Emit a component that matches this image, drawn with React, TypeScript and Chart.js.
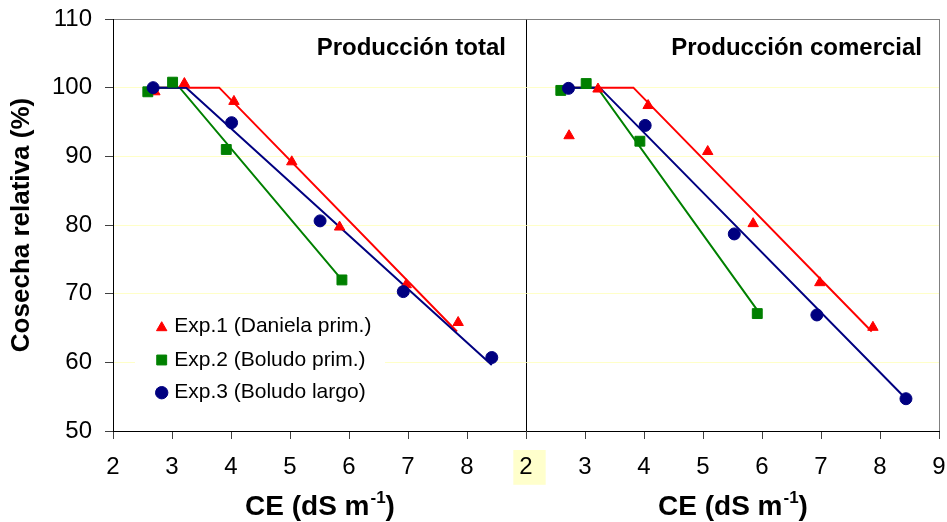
import React, { useEffect, useRef } from 'react';
import { Chart, registerables } from 'chart.js';

Chart.register(...registerables);

const FONT = "'Liberation Sans', Arial, Helvetica, sans-serif";

// ---- Data: Producción total (left panel) ----
const exp1TotalX = [2.71, 3.21, 4.05, 5.03, 5.84, 6.97, 7.85];
const exp1TotalY = [99.4, 100.6, 98.0, 89.2, 79.7, 71.3, 65.8];
const exp2TotalX = [2.59, 3.01, 3.92, 5.88];
const exp2TotalY = [99.4, 100.8, 91.0, 72.0];
const exp3TotalX = [2.68, 4.01, 5.51, 6.92, 8.42];
const exp3TotalY = [100.0, 94.9, 80.6, 70.3, 60.7];

// fitted threshold-slope lines (total)
const fit1TotalX = [2.71, 3.8, 7.83];
const fit1TotalY = [100, 100, 64.5];
const fit2TotalX = [2.59, 3.13, 5.88];
const fit2TotalY = [100, 100, 72.0];
const fit3TotalX = [2.68, 3.24, 8.42];
const fit3TotalY = [100, 100, 59.6];

// ---- Data: Producción comercial (right panel) ----
const exp1ComX = [2.73, 3.22, 4.07, 5.08, 5.85, 6.98, 7.88];
const exp1ComY = [93.0, 99.8, 97.4, 90.7, 80.2, 71.6, 65.1];
const exp2ComX = [2.59, 3.02, 3.93, 5.92];
const exp2ComY = [99.6, 100.6, 92.2, 67.1];
const exp3ComX = [2.72, 4.02, 5.53, 6.93, 8.44];
const exp3ComY = [99.9, 94.5, 78.7, 66.9, 54.7];

const fit1ComX = [2.73, 3.82, 7.86];
const fit1ComY = [100, 100, 64.5];
const fit2ComX = [2.59, 3.21, 5.92];
const fit2ComY = [100, 100, 67.6];
const fit3ComX = [2.72, 3.25, 8.44];
const fit3ComY = [100, 100, 54.7];

// ---- Text ----
const xTickLabels = ['2', '3', '4', '5', '6', '7', '8', '2', '3', '4', '5', '6', '7', '8', '9'];
const panelTitles = ['Producción total', 'Producción comercial'];
const legendLabels = ['Exp.1 (Daniela prim.)', 'Exp.2 (Boludo prim.)', 'Exp.3 (Boludo largo)'];
const yTitle = 'Cosecha relativa (%)';

const RED = '#FF0000';
const GREEN = '#008000';
const NAVY = '#000080';

const pts = (xs: number[], ys: number[]) => xs.map((x, i) => ({ x, y: ys[i] }));

function marker(label: string, xs: number[], ys: number[], color: string, style: string, radius: number, order: number, axis: string) {
  return {
    label,
    data: pts(xs, ys),
    xAxisID: axis,
    yAxisID: 'y',
    showLine: false,
    pointStyle: style,
    pointRadius: radius,
    pointHoverRadius: radius,
    backgroundColor: color,
    borderColor: color,
    pointBorderWidth: 1,
    order,
  };
}

function fitLine(label: string, xs: number[], ys: number[], color: string, order: number, axis: string) {
  return {
    label,
    data: pts(xs, ys),
    xAxisID: axis,
    yAxisID: 'y',
    showLine: true,
    borderColor: color,
    backgroundColor: color,
    borderWidth: 2,
    pointRadius: 0,
    pointHoverRadius: 0,
    tension: 0,
    fill: false,
    order,
  };
}

function drawMarker(ctx: CanvasRenderingContext2D, style: string, x: number, y: number, r: number, color: string) {
  ctx.fillStyle = color;
  ctx.strokeStyle = color;
  ctx.lineWidth = 1;
  ctx.beginPath();
  if (style === 'triangle') {
    let rad = 0;
    ctx.moveTo(x + Math.sin(rad) * r, y - Math.cos(rad) * r);
    rad += (2 * Math.PI) / 3;
    ctx.lineTo(x + Math.sin(rad) * r, y - Math.cos(rad) * r);
    rad += (2 * Math.PI) / 3;
    ctx.lineTo(x + Math.sin(rad) * r, y - Math.cos(rad) * r);
    ctx.closePath();
  } else if (style === 'rect') {
    const s = Math.SQRT1_2 * r;
    ctx.rect(x - s, y - s, 2 * s, 2 * s);
  } else {
    ctx.arc(x, y, r, 0, Math.PI * 2);
  }
  ctx.fill();
  ctx.stroke();
}

function drawXTitle(ctx: CanvasRenderingContext2D, cx: number, cy: number) {
  const main = 'CE (dS m';
  const sup = '-1';
  const close = ')';
  ctx.font = `bold 28px ${FONT}`;
  const w1 = ctx.measureText(main).width;
  const w3 = ctx.measureText(close).width;
  ctx.font = `bold 17px ${FONT}`;
  const w2 = ctx.measureText(sup).width;
  const start = cx - (w1 + w2 + w3) / 2;
  ctx.textAlign = 'left';
  ctx.textBaseline = 'middle';
  ctx.fillStyle = '#000';
  ctx.font = `bold 28px ${FONT}`;
  ctx.fillText(main, start, cy);
  ctx.font = `bold 17px ${FONT}`;
  ctx.fillText(sup, start + w1 + 1, cy - 9);
  ctx.font = `bold 28px ${FONT}`;
  ctx.fillText(close, start + w1 + w2 + 1, cy);
}

const annotations = {
  id: 'annotations',
  beforeDatasetsDraw(chart: any) {
    const { ctx, chartArea } = chart;
    ctx.save();
    // legend background (white box over the gridlines)
    ctx.fillStyle = '#FFFFFF';
    ctx.fillRect(chartArea.left + 22, chartArea.bottom - 124, 250, 104);
    ctx.restore();
  },
  afterDatasetsDraw(chart: any) {
    const { ctx, chartArea, scales } = chart;
    const xs = scales.xL;
    const mid = xs.getPixelForValue(9);
    const right = xs.getPixelForValue(16);
    const left = xs.getPixelForValue(2);
    ctx.save();
    // panel titles
    ctx.fillStyle = '#000';
    ctx.font = `bold 24px ${FONT}`;
    ctx.textAlign = 'right';
    ctx.textBaseline = 'middle';
    ctx.fillText(panelTitles[0], mid - 20, chartArea.top + 29);
    ctx.fillText(panelTitles[1], right - 17, chartArea.top + 29);

    // legend
    const styles = ['triangle', 'rect', 'circle'];
    const colors = [RED, GREEN, NAVY];
    const radii = [6, 7, 6.2];
    const rowsY = [chartArea.bottom - 104.3, chartArea.bottom - 71, chartArea.bottom - 38.3];
    const mx = chartArea.left + 48.7;
    for (let i = 0; i < 3; i++) {
      drawMarker(ctx, styles[i], mx, rowsY[i] + (i === 0 ? 1 : 0), radii[i], colors[i]);
      ctx.fillStyle = '#000';
      ctx.font = `21px ${FONT}`;
      ctx.textAlign = 'left';
      ctx.textBaseline = 'middle';
      ctx.fillText(legendLabels[i], mx + 12.5, rowsY[i]);
    }

    // x axis titles (one per panel)
    drawXTitle(ctx, (left + mid) / 2, 507);
    drawXTitle(ctx, (mid + right) / 2, 507);
    ctx.restore();
  },
};

export default function App() {
  const canvasRef = useRef<HTMLCanvasElement | null>(null);

  useEffect(() => {
    document.body.style.margin = '0';
    const canvas = canvasRef.current;
    if (!canvas) return;

    const datasets: any[] = [
      // markers (lower order = drawn on top)
      marker(legendLabels[2], exp3TotalX, exp3TotalY, NAVY, 'circle', 6, 1, 'xL'),
      marker(legendLabels[1], exp2TotalX, exp2TotalY, GREEN, 'rect', 7, 2, 'xL'),
      marker(legendLabels[0], exp1TotalX, exp1TotalY, RED, 'triangle', 6, 3, 'xL'),
      marker(legendLabels[2] + ' com', exp3ComX, exp3ComY, NAVY, 'circle', 6, 1, 'xR'),
      marker(legendLabels[1] + ' com', exp2ComX, exp2ComY, GREEN, 'rect', 7, 2, 'xR'),
      marker(legendLabels[0] + ' com', exp1ComX, exp1ComY, RED, 'triangle', 6, 3, 'xR'),
      // fitted lines
      fitLine('fit3 total', fit3TotalX, fit3TotalY, NAVY, 4, 'xL'),
      fitLine('fit2 total', fit2TotalX, fit2TotalY, GREEN, 5, 'xL'),
      fitLine('fit1 total', fit1TotalX, fit1TotalY, RED, 6, 'xL'),
      fitLine('fit3 com', fit3ComX, fit3ComY, NAVY, 4, 'xR'),
      fitLine('fit2 com', fit2ComX, fit2ComY, GREEN, 5, 'xR'),
      fitLine('fit1 com', fit1ComX, fit1ComY, RED, 6, 'xR'),
    ];

    const chart = new Chart(canvas, {
      type: 'scatter',
      data: { datasets },
      plugins: [annotations],
      options: {
        animation: false,
        responsive: true,
        maintainAspectRatio: false,
        layout: { padding: { top: 19, right: 7, bottom: 0, left: 0 } },
        plugins: {
          legend: { display: false },
          tooltip: { enabled: false },
        },
        scales: {
          xL: {
            type: 'linear',
            position: 'bottom',
            min: 2,
            max: 16,
            ticks: {
              stepSize: 1,
              autoSkip: false,
              maxRotation: 0,
              padding: 14,
              color: '#000',
              font: { family: FONT, size: 24 },
              callback: (v: any) => xTickLabels[Math.round(Number(v)) - 2] ?? '',
              showLabelBackdrop: (c: any) => !!c.tick && c.tick.value === 9,
              backdropColor: '#FFFFCC',
              backdropPadding: { left: 6, right: 13, top: 3, bottom: 3 },
            } as any,
            grid: {
              color: (c: any) => {
                const v = c.tick ? c.tick.value : null;
                if (v === 9) return '#000000';
                if (v === 16) return '#808080';
                return 'rgba(0,0,0,0)';
              },
              tickColor: '#404040',
              tickLength: 8,
              lineWidth: 1,
            },
            border: { color: '#000', width: 1 },
            afterFit: (s: any) => {
              s.height = 91;
              s.paddingLeft = 0;
              s.paddingRight = 0;
            },
          } as any,
          xR: {
            type: 'linear',
            display: false,
            min: -5,
            max: 9,
          },
          y: {
            type: 'linear',
            min: 50,
            max: 110,
            ticks: {
              stepSize: 10,
              padding: 13,
              color: '#000',
              font: { family: FONT, size: 24 },
            },
            grid: {
              color: (c: any) => {
                const v = c.tick ? c.tick.value : null;
                if (v === 110) return '#808080';
                if (v === 50) return 'rgba(0,0,0,0)';
                return '#FFFFC8';
              },
              tickColor: '#404040',
              tickLength: 8,
              lineWidth: 1,
            },
            border: { color: '#000', width: 1 },
            title: {
              display: true,
              text: yTitle,
              color: '#000',
              font: { family: FONT, size: 26, weight: 'bold' },
              padding: { top: 6, bottom: 0 },
            },
            afterFit: (s: any) => {
              s.width = 113;
              s.paddingTop = 0;
              s.paddingBottom = 0;
            },
          } as any,
        },
      } as any,
    });

    return () => {
      chart.destroy();
    };
  }, []);

  return (
    <div style={{ position: 'relative', width: '947px', height: '522px', overflow: 'hidden' }}>
      <canvas ref={canvasRef} />
    </div>
  );
}
